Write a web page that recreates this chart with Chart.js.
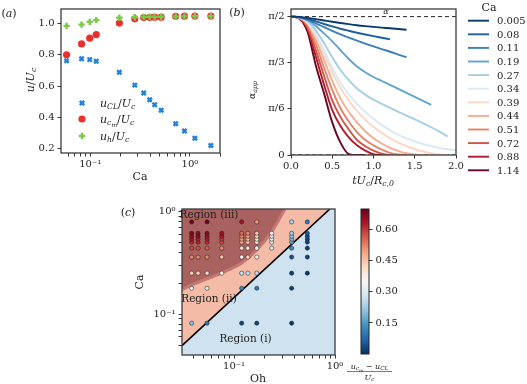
<!DOCTYPE html>
<html>
<head>
<meta charset="utf-8">
<script src="https://cdn.jsdelivr.net/npm/chart.js@4/dist/chart.umd.min.js"></script>
<style>
  html, body { margin: 0; padding: 0; background: #fff; }
  #wrap { position: relative; width: 527px; height: 384px; overflow: hidden; }
  canvas { position: absolute; left: 0; top: 0; }
</style>
</head>
<body>
<div id="wrap">
  <canvas id="chartA" width="527" height="384"></canvas>
  <canvas id="chartB" width="527" height="384"></canvas>
  <canvas id="chartC" width="527" height="384"></canvas>
  <canvas id="chartCb" width="527" height="384"></canvas>
</div>
<script>
// ---- (a) speeds vs Ca ----
const caA = [0.058, 0.082, 0.099, 0.115, 0.196, 0.28, 0.344, 0.395, 0.443, 0.515, 0.72, 0.88, 1.12, 1.62];
const uCL = [0.762, 0.775, 0.769, 0.758, 0.688, 0.606, 0.556, 0.513, 0.481, 0.446, 0.36, 0.313, 0.267, 0.221];
const uCm = [0.80, 0.869, 0.906, 0.929, 1.002, 1.029, 1.037, 1.039, 1.040, 1.040, 1.045, 1.046, 1.047, 1.047];
const uH = [0.984, 0.992, 1.01, 1.021, 1.036, 1.039, 1.041, 1.042, 1.042, 1.043, 1.044, 1.045, 1.046, 1.046];
const xTicksA = [0.06, 0.07, 0.08, 0.09, 0.1, 0.2, 0.3, 0.4, 0.5, 0.6, 0.7, 0.8, 0.9, 1, 2];
const yTicksA = [0.2, 0.4, 0.6, 0.8, 1.0];

// ---- (b) apparent angle vs time ----
const caB = ['0.005', '0.08', '0.11', '0.19', '0.27', '0.34', '0.39', '0.44', '0.51', '0.72', '0.88', '1.14'];
const tB = [0, 0.1, 0.2, 0.3, 0.4, 0.5, 0.6, 0.7, 0.8, 0.9, 1.0, 1.1, 1.2, 1.3, 1.4, 1.5, 1.6, 1.7, 1.8, 1.9, 2.0];
const angB = [
  [1.571, 1.568, 1.556, 1.542, 1.527, 1.512, 1.498, 1.485, 1.473, 1.463, 1.454, 1.446, 1.438, 1.43, 1.421],
  [1.571, 1.565, 1.545, 1.517, 1.487, 1.459, 1.433, 1.41, 1.388, 1.368, 1.349, 1.331, 1.313],
  [1.571, 1.563, 1.535, 1.495, 1.452, 1.41, 1.37, 1.333, 1.298, 1.265, 1.233, 1.202, 1.172, 1.14, 1.11],
  [1.571, 1.562, 1.53, 1.465, 1.38, 1.29, 1.19, 1.09, 1.005, 0.94, 0.885, 0.84, 0.795, 0.75, 0.705, 0.66, 0.615, 0.57],
  [1.571, 1.563, 1.52, 1.415, 1.27, 1.11, 0.965, 0.85, 0.755, 0.685, 0.628, 0.58, 0.535, 0.49, 0.447, 0.405, 0.36, 0.315, 0.265, 0.21],
  [1.571, 1.562, 1.51, 1.38, 1.19, 0.99, 0.82, 0.69, 0.58, 0.49, 0.41, 0.34, 0.28, 0.23, 0.19, 0.155, 0.125, 0.10, 0.08, 0.065, 0.055],
  [1.571, 1.56, 1.50, 1.35, 1.15, 0.94, 0.76, 0.62, 0.50, 0.40, 0.32, 0.25, 0.19, 0.14, 0.10, 0.065, 0.04, 0.02, 0.005, 0],
  [1.571, 1.559, 1.49, 1.31, 1.08, 0.84, 0.64, 0.49, 0.37, 0.27, 0.19, 0.13, 0.08, 0.045, 0.02, 0.005, 0],
  [1.571, 1.557, 1.47, 1.26, 0.99, 0.74, 0.53, 0.38, 0.26, 0.17, 0.11, 0.06, 0.025, 0.005, 0],
  [1.571, 1.555, 1.45, 1.19, 0.90, 0.62, 0.43, 0.29, 0.17, 0.10, 0.05, 0.015, 0],
  [1.571, 1.552, 1.43, 1.12, 0.80, 0.51, 0.33, 0.20, 0.11, 0.05, 0.01, 0],
  [1.571, 1.548, 1.40, 1.02, 0.70, 0.37, 0.14, 0.01, 0, 0]
];
const yTicksB = [0, Math.PI / 6, Math.PI / 3, Math.PI / 2];
const yLabelsB = ['0', 'π/6', 'π/3', 'π/2'];
const lineColorsB = ['#083a70', '#1f5e9f', '#3b7fbb', '#63a3d0', '#a6cfe5', '#d9e8f2',
                     '#fcd7c5', '#f6ac8e', '#e5846b', '#d05545', '#b1192d', '#690623'];

// ---- (c) regime map Oh-Ca ----
const ohCols = [0.038, 0.044, 0.054, 0.0755, 0.119, 0.137, 0.168, 0.236, 0.372, 0.532];
const caRows = [0.0817, 0.179, 0.251, 0.36, 0.44, 0.503, 0.538, 0.575, 0.615, 0.793];
// (u_cm - u_CL)/U_c per row (Ca) and column (Oh); null = no run
const gridC = [
  [0.20, null, 0.10, null, 0.03, null, 0.03, null, 0.01, null],
  [0.33, null, 0.30, null, 0.12, null, 0.10, null, 0.02, null],
  [0.43, 0.43, 0.42, 0.37, 0.27, 0.26, 0.25, null, 0.02, 0.01],
  [0.52, 0.52, 0.52, 0.45, 0.36, 0.43, 0.38, null, 0.04, 0.02],
  [0.58, 0.57, 0.56, 0.52, 0.42, 0.40, 0.36, 0.28, 0.13, 0.02],
  [0.62, 0.62, 0.61, 0.58, 0.48, 0.44, 0.38, 0.30, 0.17, 0.03],
  [0.64, 0.63, 0.63, 0.60, 0.50, 0.47, 0.40, 0.31, 0.19, 0.03],
  [0.66, 0.66, 0.65, 0.63, 0.52, 0.49, 0.42, 0.32, 0.21, 0.04],
  [0.68, 0.67, 0.67, 0.65, 0.55, 0.52, 0.45, 0.33, 0.22, 0.05],
  [0.69, null, 0.69, null, 0.64, null, 0.50, null, 0.24, 0.10]
];
const lineOh = [0.0305, 0.89];
const lineCa = [0.0494, 1.06];
const regionIOh = [0.0305, 0.89, 1.0];
const regionICa = [0.0494, 1.06, 1.06];
const regionIIIOh = [0.0305, 0.0381, 0.0755, 0.119, 0.168, 0.236, 0.296, 0.32];
const regionIIICa = [0.1726, 0.193, 0.2527, 0.316, 0.423, 0.638, 0.929, 1.06];
const xTicksC = [0.04, 0.05, 0.06, 0.07, 0.08, 0.09, 0.1, 0.2, 0.3, 0.4, 0.5, 0.6, 0.7, 0.8, 0.9, 1];
const yTicksC = [0.05, 0.06, 0.07, 0.08, 0.09, 0.1, 0.2, 0.3, 0.4, 0.5, 0.6, 0.7, 0.8, 0.9, 1];
const cbTicks = [0.15, 0.30, 0.45, 0.60];
const cbRange = [0, 0.7];

// ---- helpers ----
const SERIF = '"DejaVu Serif", "Liberation Serif", serif';
const INK = '#222';
const rdbu_r = ['#053061', '#2166ac', '#4393c3', '#92c5de', '#d1e5f0', '#f7f7f7',
                '#fddbc7', '#f4a582', '#d6604d', '#b2182b', '#67001f'];

function hexRgb(h) { return [1, 3, 5].map(i => parseInt(h.substr(i, 2), 16)); }
function cmap(v) {
  let f = (v - cbRange[0]) / (cbRange[1] - cbRange[0]);
  f = Math.max(0, Math.min(1, f)) * 10;
  const i = Math.min(9, Math.floor(f));
  const t = f - i;
  const a = hexRgb(rdbu_r[i]), b = hexRgb(rdbu_r[i + 1]);
  return 'rgb(' + a.map((c, k) => Math.round(c + (b[k] - c) * t)).join(',') + ')';
}
function fnt(size, it) { return (it ? 'italic ' : '') + size + 'px ' + SERIF; }
// parts: [text, level(0 normal,1 sub,2 subsub), italic]
function rich(ctx, parts, x, y, size, align) {
  const sz = [size, size * 0.7, size * 0.55];
  const dy = [0, size * 0.22, size * 0.38];
  let w = 0;
  parts.forEach(p => { ctx.font = fnt(sz[p[1]], p[2]); w += ctx.measureText(p[0]).width; });
  let cx = align === 'center' ? x - w / 2 : (align === 'right' ? x - w : x);
  ctx.textAlign = 'left';
  ctx.textBaseline = 'alphabetic';
  ctx.fillStyle = INK;
  parts.forEach(p => {
    ctx.font = fnt(sz[p[1]], p[2]);
    ctx.fillText(p[0], cx, y + dy[p[1]]);
    cx += ctx.measureText(p[0]).width;
  });
  return w;
}
function richRot(ctx, parts, x, y, size) {
  ctx.save();
  ctx.translate(x, y);
  ctx.rotate(-Math.PI / 2);
  rich(ctx, parts, 0, size * 0.35, size, 'center');
  ctx.restore();
}

const framePlugin = {
  id: 'frame',
  afterDatasetsDraw(chart) {
    const { ctx, chartArea: a } = chart;
    ctx.save();
    ctx.strokeStyle = '#3c3c3c';
    ctx.lineWidth = 1.3;
    ctx.strokeRect(a.left, a.top, a.right - a.left, a.bottom - a.top);
    ctx.restore();
  }
};

function axisBase(extra) {
  return Object.assign({
    border: { display: false },
    grid: { display: true, drawOnChartArea: false, drawTicks: true, tickLength: 3.5, tickColor: '#333', tickWidth: 1 },
    ticks: { color: INK, font: { family: SERIF, size: 10 }, padding: 2, autoSkip: false, maxRotation: 0 }
  }, extra);
}
function fixTicks(list) { return s => { s.ticks = list.map(v => ({ value: v })); }; }
const baseOpts = {
  responsive: false, animation: false, devicePixelRatio: 1,
  plugins: { legend: { display: false }, tooltip: { enabled: false } }
};

// ================= (a) =================
const blue = '#2480d8', red = '#e8302e', green = '#7cc84a';
new Chart(document.getElementById('chartA'), {
  type: 'scatter',
  data: {
    datasets: [
      { data: caA.map((c, i) => ({ x: c, y: uH[i] })), pointStyle: 'cross', pointRadius: 3.2, pointBorderWidth: 2.4, pointBorderColor: green, pointBackgroundColor: green },
      { data: caA.map((c, i) => ({ x: c, y: uCm[i] })), pointStyle: 'circle', pointRadius: 3.6, pointBorderWidth: 0, pointBackgroundColor: red },
      { data: caA.map((c, i) => ({ x: c, y: uCL[i] })), pointStyle: 'crossRot', pointRadius: 3, pointBorderWidth: 2.4, pointBorderColor: blue, pointBackgroundColor: blue }
    ]
  },
  options: Object.assign({}, baseOpts, {
    layout: { padding: { left: 21, right: 307, top: 6, bottom: 206 } },
    scales: {
      x: axisBase({
        type: 'logarithmic', min: 0.051, max: 2.0,
        afterBuildTicks: fixTicks(xTicksA),
        afterFit: s => { s.height = 25; },
        ticks: { color: INK, font: { family: SERIF, size: 10 }, padding: 2, autoSkip: false, maxRotation: 0,
          callback: v => v === 0.1 ? '10⁻¹' : (v === 1 ? '10⁰' : '') }
      }),
      y: axisBase({
        min: 0.173, max: 1.092,
        afterBuildTicks: fixTicks(yTicksA),
        afterFit: s => { s.width = 40; },
        ticks: { color: INK, font: { family: SERIF, size: 10 }, padding: 3, callback: v => v.toFixed(1) }
      })
    }
  }),
  plugins: [framePlugin, {
    id: 'textA',
    afterDraw(chart) {
      const ctx = chart.ctx;
      rich(ctx, [['(', 0, 0], ['a', 0, 1], [')', 0, 0]], 9, 17, 11, 'center');
      richRot(ctx, [['u', 0, 1], ['/', 0, 0], ['U', 0, 1], ['c', 1, 1]], 30, 80, 11);
      rich(ctx, [['Ca', 0, 0]], 140, 180, 11, 'center');
      // legend
      const lx = 82, rows = [103, 119, 136];
      ctx.save();
      ctx.lineCap = 'butt';
      ctx.strokeStyle = blue; ctx.lineWidth = 2.4;
      ctx.beginPath();
      ctx.moveTo(lx - 2.2, rows[0] - 2.2); ctx.lineTo(lx + 2.2, rows[0] + 2.2);
      ctx.moveTo(lx + 2.2, rows[0] - 2.2); ctx.lineTo(lx - 2.2, rows[0] + 2.2);
      ctx.stroke();
      ctx.fillStyle = red;
      ctx.beginPath(); ctx.arc(lx, rows[1], 3.6, 0, Math.PI * 2); ctx.fill();
      ctx.strokeStyle = green;
      ctx.beginPath();
      ctx.moveTo(lx - 3.2, rows[2]); ctx.lineTo(lx + 3.2, rows[2]);
      ctx.moveTo(lx, rows[2] - 3.2); ctx.lineTo(lx, rows[2] + 3.2);
      ctx.stroke();
      ctx.restore();
      const tx = 100, sz = 11;
      rich(ctx, [['u', 0, 1], ['CL', 1, 1], ['/', 0, 0], ['U', 0, 1], ['c', 1, 1]], tx, rows[0] + 3.5, sz, 'left');
      rich(ctx, [['u', 0, 1], ['c', 1, 1], ['m', 2, 1], ['/', 0, 0], ['U', 0, 1], ['c', 1, 1]], tx, rows[1] + 3.5, sz, 'left');
      rich(ctx, [['u', 0, 1], ['h', 1, 1], ['/', 0, 0], ['U', 0, 1], ['c', 1, 1]], tx, rows[2] + 3.5, sz, 'left');
    }
  }]
});

// ================= (b) =================
const dsB = angB.map((vals, k) => ({
  data: vals.map((v, i) => ({ x: tB[i], y: v })),
  borderColor: lineColorsB[k], borderWidth: 1.9, pointRadius: 0,
  cubicInterpolationMode: 'monotone', fill: false
}));
dsB.push({ data: [{ x: tB[0], y: Math.PI / 2 }, { x: tB[tB.length - 1], y: Math.PI / 2 }], borderColor: '#222', borderWidth: 1, borderDash: [4, 3], pointRadius: 0 });
dsB.push({ data: [{ x: tB[0], y: 0 }, { x: tB[tB.length - 1], y: 0 }], borderColor: '#222', borderWidth: 1, borderDash: [4, 3], pointRadius: 0 });
new Chart(document.getElementById('chartB'), {
  type: 'line',
  data: { datasets: dsB },
  options: Object.assign({}, baseOpts, {
    layout: { padding: { left: 251, right: 71, top: 7, bottom: 204 } },
    scales: {
      x: axisBase({
        type: 'linear', min: 0, max: 2,
        afterFit: s => { s.height = 25; },
        ticks: { color: INK, font: { family: SERIF, size: 10 }, padding: 2, stepSize: 0.5, maxRotation: 0, callback: v => v.toFixed(1) }
      }),
      y: axisBase({
        min: 0, max: Math.PI / 2 * 1.055,
        afterBuildTicks: fixTicks(yTicksB),
        afterFit: s => { s.width = 40; },
        ticks: { color: INK, font: { family: SERIF, size: 10 }, padding: 3,
          callback: (v, i) => yLabelsB[i] }
      })
    }
  }),
  plugins: [framePlugin, {
    id: 'textB',
    afterDraw(chart) {
      const ctx = chart.ctx;
      rich(ctx, [['(', 0, 0], ['b', 0, 1], [')', 0, 0]], 237, 16, 11, 'center');
      richRot(ctx, [['α', 0, 1], ['app', 1, 1]], 252, 90, 9);
      rich(ctx, [['t', 0, 1], ['U', 0, 1], ['c', 1, 1], ['/', 0, 0], ['R', 0, 1], ['c,0', 1, 1]], 373, 184, 11, 'center');
      rich(ctx, [['α', 0, 1]], 386, 14, 8, 'center');
      // legend
      rich(ctx, [['Ca', 0, 0]], 489, 11, 11, 'center');
      ctx.save();
      caB.forEach((lab, i) => {
        const y = 20.7 + i * 13.6;
        ctx.strokeStyle = lineColorsB[i];
        ctx.lineWidth = 1.9;
        ctx.beginPath(); ctx.moveTo(468, y); ctx.lineTo(489, y); ctx.stroke();
        rich(ctx, [[lab, 0, 0]], 497, y + 3.5, 10, 'left');
      });
      ctx.restore();
    }
  }]
});

// ================= (c) =================
const ptsC = [], colC = [];
gridC.forEach((row, r) => row.forEach((v, c) => {
  if (v !== null) { ptsC.push({ x: ohCols[c], y: caRows[r] }); colC.push(cmap(v)); }
}));
new Chart(document.getElementById('chartC'), {
  type: 'line',
  data: {
    datasets: [
      { data: ptsC, showLine: false, pointRadius: 2.1, pointBackgroundColor: colC, pointBorderColor: '#1a1a1a', pointBorderWidth: 0.5 },
      { data: lineOh.map((o, i) => ({ x: o, y: lineCa[i] })), borderColor: '#000', borderWidth: 1.6, pointRadius: 0 },
      { data: regionIIIOh.map((o, i) => ({ x: o, y: regionIIICa[i] })), borderColor: '#c47874', borderWidth: 3,
        backgroundColor: '#a9625f', fill: 'end', pointRadius: 0, cubicInterpolationMode: 'monotone' },
      { data: regionIOh.map((o, i) => ({ x: o, y: regionICa[i] })), borderWidth: 0, borderColor: 'rgba(0,0,0,0)',
        backgroundColor: '#cfe2f0', fill: 'start', pointRadius: 0 }
    ]
  },
  options: Object.assign({}, baseOpts, {
    layout: { padding: { left: 142, right: 192, top: 209, bottom: 4 } },
    scales: {
      x: axisBase({
        type: 'logarithmic', min: 0.0305, max: 1.0,
        afterBuildTicks: fixTicks(xTicksC),
        afterFit: s => { s.height = 25; },
        ticks: { color: INK, font: { family: SERIF, size: 10 }, padding: 2, autoSkip: false, maxRotation: 0,
          callback: v => v === 0.1 ? '10⁻¹' : (v === 1 ? '10⁰' : '') }
      }),
      y: axisBase({
        type: 'logarithmic', min: 0.04, max: 1.06,
        afterBuildTicks: fixTicks(yTicksC),
        afterFit: s => { s.width = 40; },
        ticks: { color: INK, font: { family: SERIF, size: 10 }, padding: 3, autoSkip: false,
          callback: v => v === 0.1 ? '10⁻¹' : (v === 1 ? '10⁰' : '') }
      })
    }
  }),
  plugins: [{
    id: 'bgC',
    beforeDatasetsDraw(chart) {
      const { ctx, chartArea: a } = chart;
      ctx.save(); ctx.fillStyle = '#f4bba7';
      ctx.fillRect(a.left, a.top, a.right - a.left, a.bottom - a.top);
      ctx.restore();
    }
  }, framePlugin, {
    id: 'textC',
    afterDraw(chart) {
      const ctx = chart.ctx;
      rich(ctx, [['(', 0, 0], ['c', 0, 1], [')', 0, 0]], 128, 216, 11, 'center');
      richRot(ctx, [['Ca', 0, 0]], 139, 282, 11);
      rich(ctx, [['Oh', 0, 0]], 258, 382, 11, 'center');
      rich(ctx, [['Region (iii)', 0, 0]], 209, 218, 10.5, 'center');
      rich(ctx, [['Region (ii)', 0, 0]], 209, 302, 10.5, 'center');
      rich(ctx, [['Region (i)', 0, 0]], 245.5, 341.5, 10.5, 'center');
    }
  }]
});

// ================= colorbar =================
new Chart(document.getElementById('chartCb'), {
  type: 'line',
  data: { datasets: [] },
  options: Object.assign({}, baseOpts, {
    layout: { padding: { left: 361, right: 118, top: 209, bottom: 30 } },
    scales: {
      x: { type: 'linear', display: false, min: 0, max: 1 },
      y: axisBase({
        position: 'right', min: cbRange[0], max: cbRange[1],
        afterBuildTicks: fixTicks(cbTicks),
        afterFit: s => { s.width = 40; },
        ticks: { color: INK, font: { family: SERIF, size: 10 }, padding: 3, callback: v => v.toFixed(2) }
      })
    }
  }),
  plugins: [{
    id: 'cbFill',
    beforeDatasetsDraw(chart) {
      const { ctx, chartArea: a } = chart;
      const g = ctx.createLinearGradient(0, a.bottom, 0, a.top);
      rdbu_r.forEach((c, i) => g.addColorStop(i / 10, c));
      ctx.save();
      ctx.fillStyle = g;
      ctx.fillRect(a.left, a.top, a.right - a.left, a.bottom - a.top);
      ctx.strokeStyle = '#222'; ctx.lineWidth = 1;
      ctx.strokeRect(a.left, a.top, a.right - a.left, a.bottom - a.top);
      ctx.restore();
    },
    afterDraw(chart) {
      const ctx = chart.ctx;
      const cx = 369.5;
      rich(ctx, [['u', 0, 1], ['c', 1, 1], ['m', 2, 1], [' − ', 0, 0], ['u', 0, 1], ['CL', 1, 1]], cx, 368.5, 8, 'center');
      ctx.save(); ctx.strokeStyle = INK; ctx.lineWidth = 0.6;
      ctx.beginPath(); ctx.moveTo(347, 371.5); ctx.lineTo(392, 371.5); ctx.stroke(); ctx.restore();
      rich(ctx, [['U', 0, 1], ['c', 1, 1]], cx, 379.5, 8, 'center');
    }
  }]
});
</script>
</body>
</html>
